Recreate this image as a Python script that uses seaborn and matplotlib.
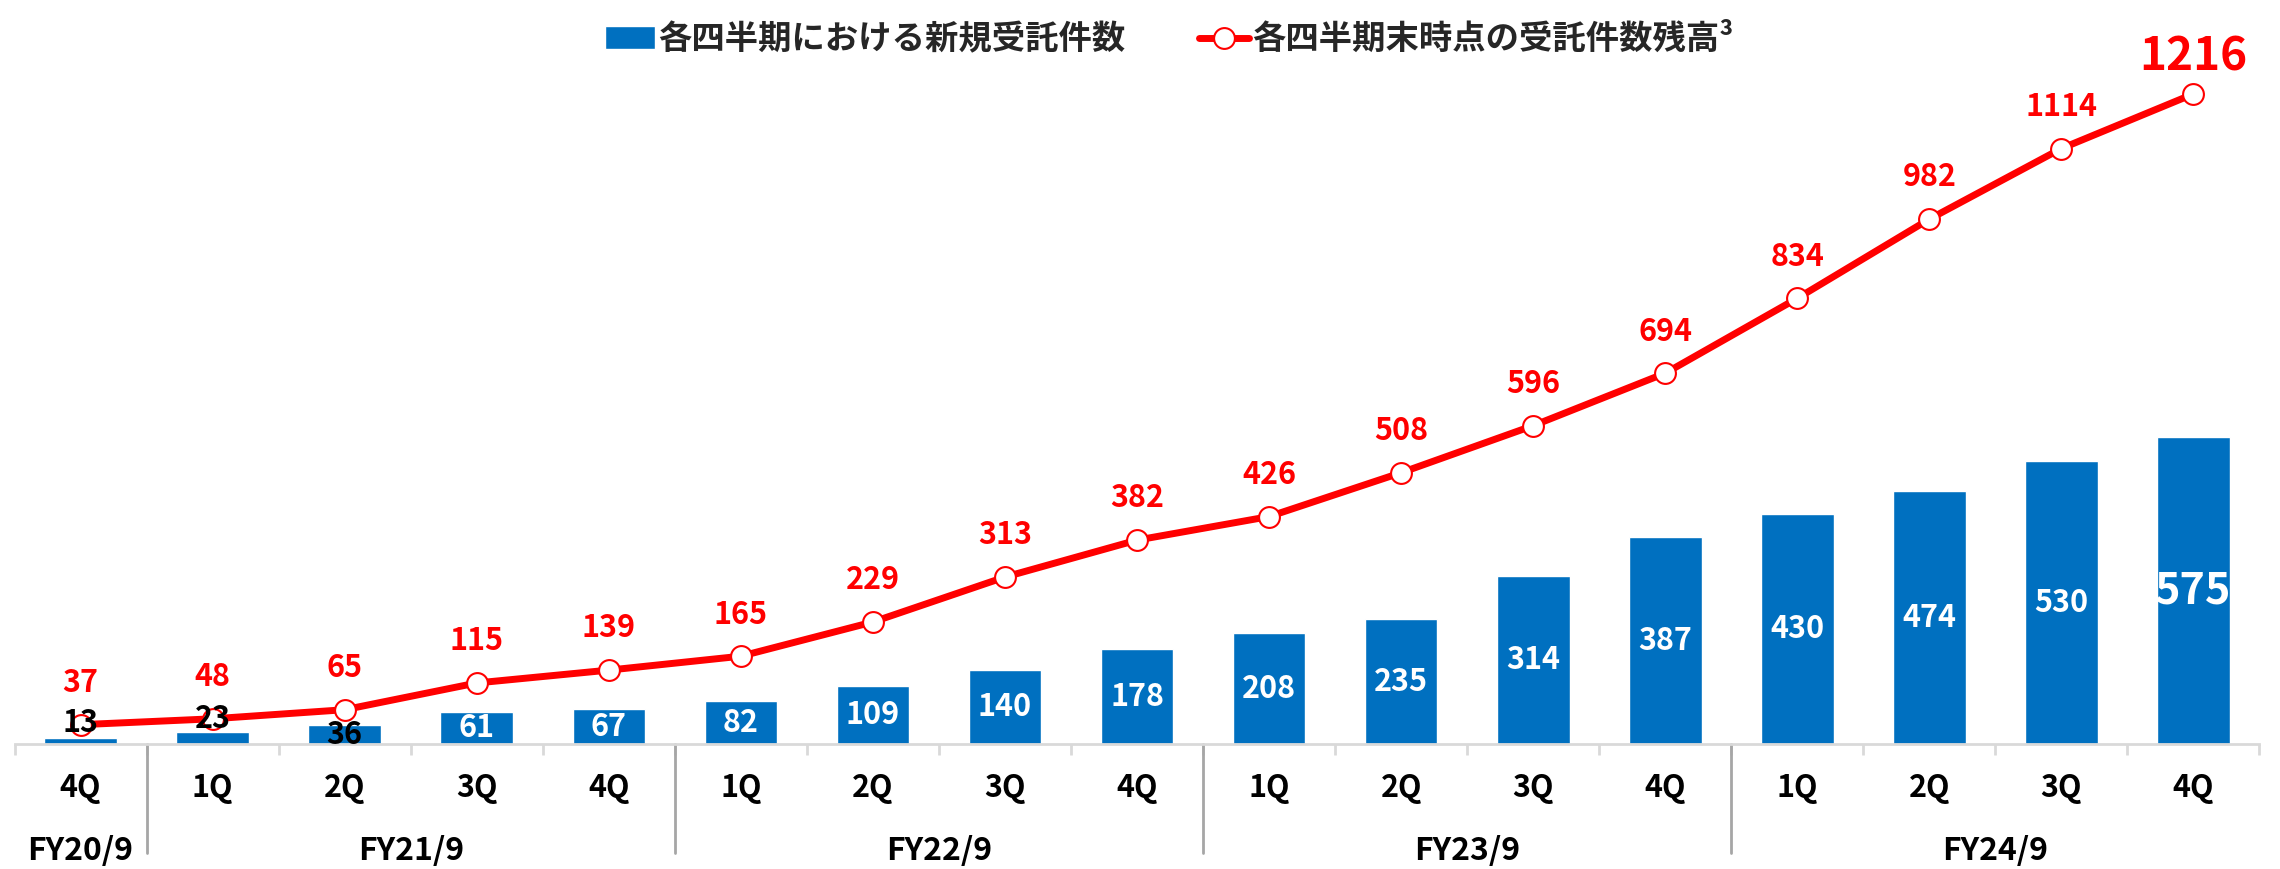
import numpy as np
import pandas as pd
import seaborn as sns
import matplotlib.pyplot as plt
import matplotlib.transforms as mtransforms

# data
fiscal_years = ['FY20/9', 'FY21/9', 'FY22/9', 'FY23/9', 'FY24/9']
quarters_per_year = [1, 4, 4, 4, 4]
quarter_labels = ['4Q', '1Q', '2Q', '3Q', '4Q', '1Q', '2Q', '3Q', '4Q',
                  '1Q', '2Q', '3Q', '4Q', '1Q', '2Q', '3Q', '4Q']
new_contracts = [13, 23, 36, 61, 67, 82, 109, 140, 178, 208, 235, 314, 387, 430, 474, 530, 575]
contract_balance = [37, 48, 65, 115, 139, 165, 229, 313, 382, 426, 508, 596, 694, 834, 982, 1114, 1216]

bar_label = '各四半期における新規受託件数'
line_label = '各四半期末時点の受託件数残高³'

BLUE = '#0070C0'
RED = '#FF0000'


def plot_chart():
    sns.set_style('white')
    plt.rcParams['font.family'] = ['Noto Sans CJK JP', 'DejaVu Sans']
    plt.rcParams['font.weight'] = 'bold'

    n = len(quarter_labels)
    keys = []
    for fy, q in zip(fiscal_years, quarters_per_year):
        keys += [fy] * q
    df = pd.DataFrame({
        'key': [f'{k} {q} #{i}' for i, (k, q) in enumerate(zip(keys, quarter_labels))],
        'pos': np.arange(n),
        'new': new_contracts,
        'balance': contract_balance,
    })

    fig = plt.figure(figsize=(22.8, 8.69), dpi=100)
    ax = fig.add_axes([0.0064, 0.1433, 0.9846, 0.788])

    sns.barplot(data=df, x='key', y='new', color=BLUE, width=0.55,
                saturation=1, ax=ax, label=bar_label)
    sns.lineplot(data=df, x='pos', y='balance', color=RED, linewidth=5,
                 marker='o', markersize=15, markerfacecolor='white',
                 markeredgecolor=RED, markeredgewidth=1.5, ax=ax,
                 label=line_label, zorder=5)

    ax.set_xlim(-0.5, n - 0.5)
    ax.set_ylim(0, 1280)
    ax.set_xlabel('')
    ax.set_ylabel('')
    ax.set_yticks([])
    for s in ['top', 'right', 'left']:
        ax.spines[s].set_visible(False)
    ax.spines['bottom'].set_color('#D9D9D9')
    ax.spines['bottom'].set_linewidth(2)

    # boundary ticks between quarters
    ax.set_xticks([])
    ax.set_xticks(np.arange(n + 1) - 0.5, minor=True)
    ax.tick_params(axis='x', which='minor', length=8, width=2, color='#D9D9D9',
                   direction='out', bottom=True)
    ax.set_xticklabels([], minor=True)

    trans = mtransforms.blended_transform_factory(ax.transData, ax.transAxes)

    # quarter labels and fiscal-year group labels
    for i, q in enumerate(quarter_labels):
        ax.annotate(q, xy=(i, 0), xycoords=trans, xytext=(0, -31),
                    textcoords='offset points', ha='center', va='center',
                    fontsize=22, fontweight='bold', color='black')
    start = 0
    for fy, q in zip(fiscal_years, quarters_per_year):
        center = start + (q - 1) / 2
        ax.annotate(fy, xy=(center, 0), xycoords=trans, xytext=(0, -77),
                    textcoords='offset points', ha='center', va='center',
                    fontsize=23, fontweight='bold', color='black')
        if start > 0:
            ax.plot([start - 0.5, start - 0.5], [0, -0.158], transform=trans,
                    color='#A6A6A6', lw=2, clip_on=False)
        start += q

    # bar value labels
    nudged = {0: 40, 1: 47}
    for i, v in enumerate(new_contracts):
        y = nudged.get(i, v / 2)
        color = 'black' if v < 40 else 'white'
        size = 31 if i == n - 1 else 22
        ax.text(i, y, str(v), ha='center', va='center', fontsize=size,
                fontweight='bold', color=color, zorder=6)

    # line value labels
    for i, v in enumerate(contract_balance):
        last = i == n - 1
        ax.annotate(str(v), xy=(i, v), xytext=(0, 26 if last else 30),
                    textcoords='offset points', ha='center', va='center',
                    fontsize=33 if last else 22, fontweight='bold', color=RED,
                    zorder=7)

    handles, labels = ax.get_legend_handles_labels()
    ax.get_legend().remove()
    order = [labels.index(bar_label), labels.index(line_label)]
    fig.legend([handles[k] for k in order], [labels[k] for k in order],
               loc='upper center', bbox_to_anchor=(0.513, 1.008),
               ncol=2, frameon=False, prop={'size': 24, 'weight': 'bold'},
               handlelength=1.5, handleheight=0.7, handletextpad=0.1,
               columnspacing=2.2)

    fig.savefig('out.png', dpi=100)


if __name__ == '__main__':
    plot_chart()
